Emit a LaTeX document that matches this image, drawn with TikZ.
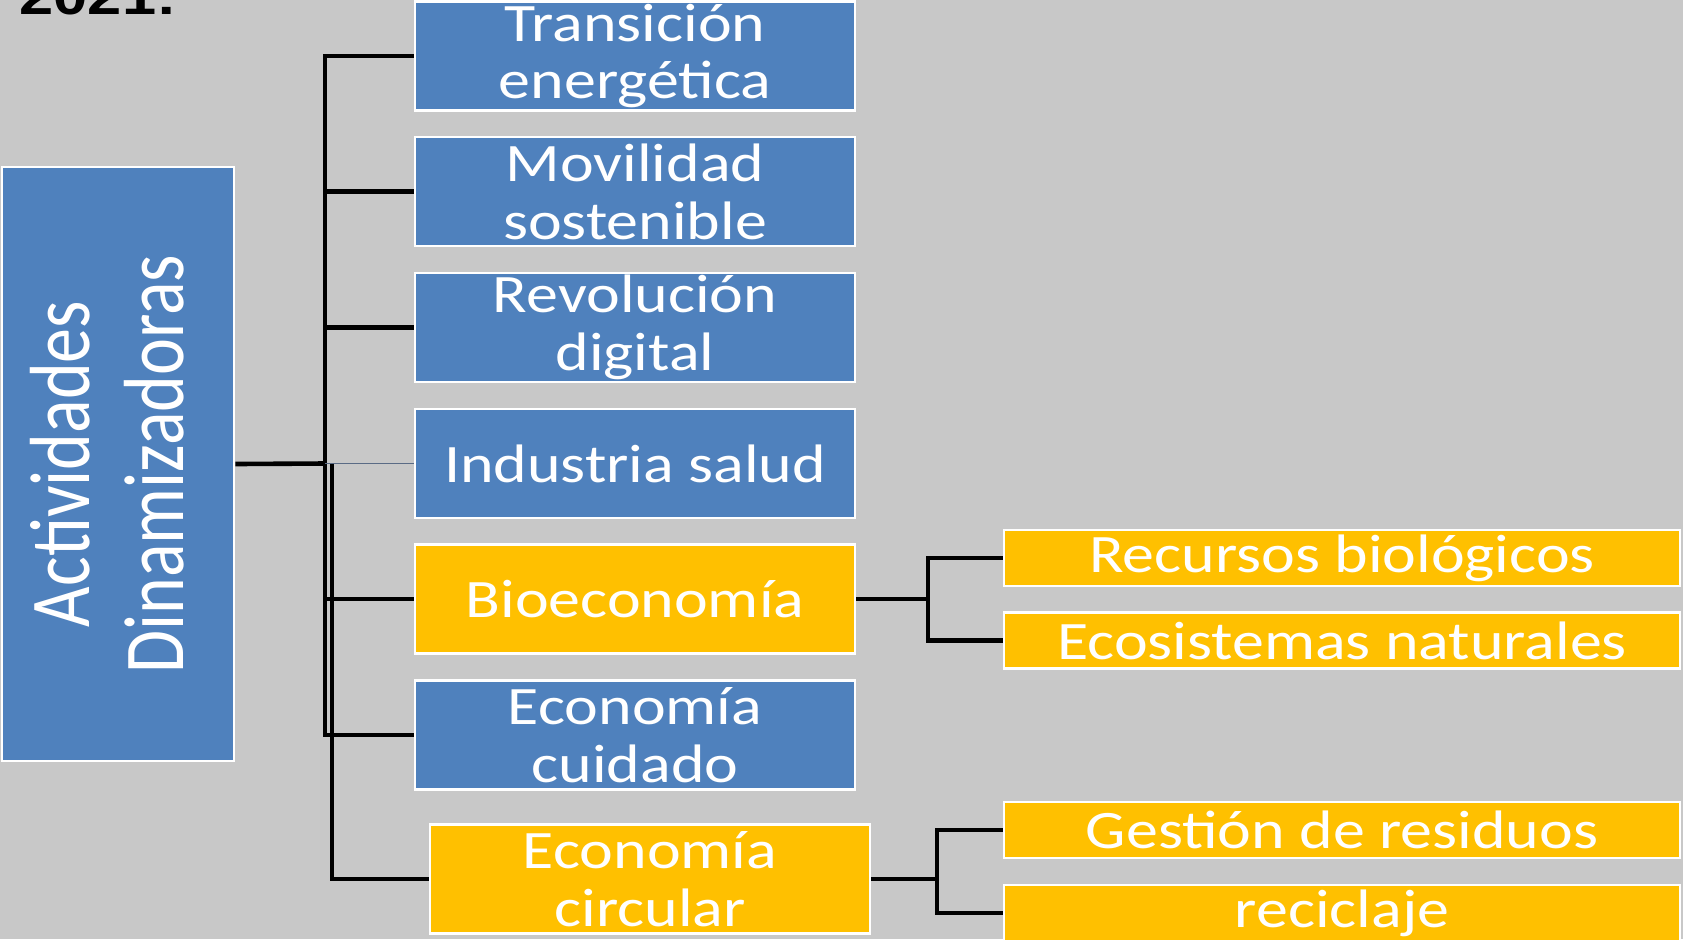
\documentclass[tikz,border=0pt]{standalone}
\usepackage{fontspec}
\usepackage{graphicx}
\setmainfont{Carlito}
\newfontfamily\slidefont[FakeStretch=1.18]{Carlito}
\newfontfamily\yearfont[FakeStretch=1.18]{Liberation Sans}
\definecolor{slidegray}{HTML}{C8C8C8}
\definecolor{boxblue}{HTML}{4F81BD}
\definecolor{boxgold}{HTML}{FFC000}
\definecolor{thinlink}{HTML}{5A6B85}

\begin{document}
\begin{tikzpicture}[x=0.01cm,y=-0.01cm,
	blue_box/.style={rectangle,fill=boxblue,draw=white,line width=0.025cm,minimum width=4.4cm,minimum height=1.09cm,inner sep=0pt,text=white,align=center,font=\slidefont\fontsize{15.4}{16.4}\selectfont},
	gold_box/.style={blue_box,fill=boxgold},
	sub_box/.style={gold_box,minimum width=6.76cm,minimum height=0.56cm},
	tree_line/.style={line width=0.046cm,black}]
	\fill[slidegray] (0,0) rectangle (1683,939);
	\useasboundingbox (0,0) rectangle (1683,939);
	
	\node[anchor=base west,inner sep=0pt,font=\yearfont\bfseries\fontsize{14.8}{16}\selectfont] (year) at (19,14) {2021:};
	
	\node[blue_box,minimum width=2.32cm,minimum height=5.94cm,font=\fontsize{19.9}{21.9}\selectfont] (main) at (118,464) {\rotatebox{90}{\scalebox{1}[1.22]{\begin{tabular}{@{}c@{}}Actividades\\Dinamizadoras\end{tabular}}}};
	
	\node[blue_box] (trans) at (635,56) {Transición\\energética};
	\node[blue_box] (mov) at (635,191.7) {Movilidad\\sostenible};
	\node[blue_box] (rev) at (635,327.4) {Revolución\\digital};
	\node[blue_box] (ind) at (635,463.5) {Industria salud};
	\node[gold_box] (bio) at (635,599) {Bioeconomía};
	\node[blue_box] (cuid) at (635,735) {Economía\\cuidado};
	\node[gold_box] (circ) at (650,879) {Economía\\circular};
	
	\node[sub_box] (recur) at (1342,558) {Recursos biológicos};
	\node[sub_box] (ecosis) at (1342,640.5) {Ecosistemas naturales};
	\node[sub_box] (gest) at (1342,830) {Gestión de residuos};
	\node[sub_box] (recic) at (1342,913) {reciclaje};
	
	\coordinate (hub) at (325,463.5);
	\coordinate (hub_low) at (332,463.5);
	\coordinate (bio_fork) at (928,599);
	\coordinate (circ_fork) at (937,879);
	
	\draw[tree_line] (main.east) -- (hub);
	\draw[tree_line] (trans.west) -| (hub |- cuid.west) -- (cuid.west);
	\foreach \n in {mov,rev,bio}
		\draw[tree_line] (\n.west) -- (hub |- \n.west);
	\draw[line width=0.015cm,thinlink] (hub) -- (ind.west);
	\draw[tree_line] (hub_low) |- (circ.west);
	
	\draw[tree_line] (bio.east) -- (bio_fork);
	\draw[tree_line] (recur.west) -| (bio_fork) |- (ecosis.west);
	\draw[tree_line] (circ.east) -- (circ_fork);
	\draw[tree_line] (gest.west) -| (circ_fork) |- (recic.west);
\end{tikzpicture}
\end{document}
